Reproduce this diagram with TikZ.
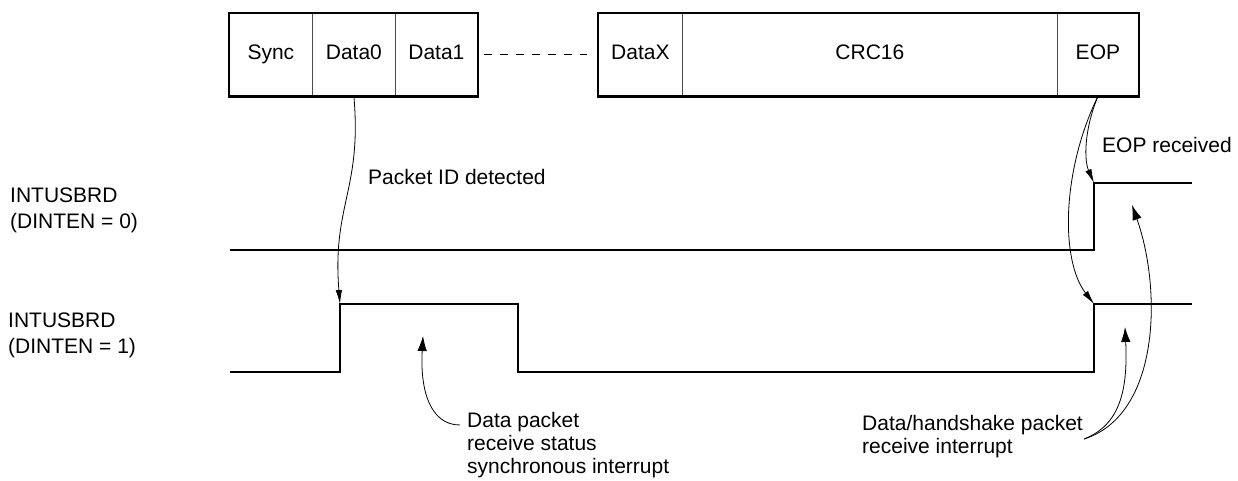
\documentclass[tikz,border=0pt]{standalone}
\usepackage{fontspec}
\setmainfont{Liberation Sans}
\usetikzlibrary{arrows.meta}

\begin{document}
\begin{tikzpicture}[x=1pt, y=-1pt, font=\fontsize{21}{26}\selectfont,
    field/.style={draw=black!70, line width=0.8pt, inner sep=0pt, minimum height=83pt,
      text height=15pt, text depth=4.5pt, anchor=west},
    frame/.style={line width=2.2pt},
    signal/.style={line width=2pt},
    lbl/.style={inner sep=0pt, align=left, anchor=west},
    tight/.style={font=\fontsize{21}{23}\selectfont},
    pointer/.style={line width=0.8pt, -{Latex[length=14pt, width=6.5pt]}},
    pointerup/.style={line width=0.8pt, -{Latex[length=15pt, width=9.5pt]}}]
  \useasboundingbox (0,0) rectangle (1238,480);
  \foreach \x/\w/\lbl/\nm in {
      229/83/Sync/sync,
      312/83/Data0/dzero,
      395/82/Data1/done,
      598/84/DataX/dx,
      682/375/CRC16/crc,
      1057/81/EOP/eop}{
    \node[field, minimum width=\w*1pt] (\nm) at (\x,54.5) {\lbl};
  }
  \draw[frame] (sync.north west) rectangle (done.south east);
  \draw[frame] (dx.north west) rectangle (eop.south east);
  \draw[line width=0.8pt, dash pattern=on 8pt off 8pt] ([xshift=6pt]done.east) -- ([xshift=-11pt]dx.west);

  \coordinate (pidrise) at (340,304);
  \coordinate (eoprise0) at (1094,183);
  \coordinate (eoprise1) at (1094,304);
  \draw[signal] (230,250) -| (eoprise0) -- ++(98,0);
  \draw[signal] (230,372) -| (pidrise) -- (518,304) -- (518,372) -| (eoprise1) -- ++(98,0);

  \node[lbl] (sig0) at (10,210) {INTUSBRD\\(DINTEN = 0)};
  \node[lbl] (sig1) at (8,335) {INTUSBRD\\(DINTEN = 1)};
  \node[lbl] (pidtxt) at (368,177) {Packet ID detected};
  \node[lbl] (eoptxt) at (1102,145) {EOP received};
  \node[lbl, tight] (dptxt) at (467,445) {Data packet\\receive status\\synchronous interrupt};
  \node[lbl, tight] (hstxt) at (862,436.5) {Data/handshake packet\\receive interrupt};

  \draw[pointer] (dzero.south) .. controls (362,190) and (332,205) .. (pidrise);
  \draw[pointer] (eop.south) .. controls (1084,130) and (1084,160) .. (eoprise0);
  \draw[pointer] (eop.south) .. controls (1062,170) and (1060,260) .. (eoprise1);

  \coordinate (dptail) at (460,425);
  \coordinate (dphead) at (423,336);
  \coordinate (hstail) at (1084,439);
  \coordinate (hshead0) at (1125,327);
  \coordinate (hshead1) at (1132,205);
  \draw[pointerup] (dptail) .. controls (430,425) and (420,390) .. (dphead);
  \draw[pointerup] (hstail) .. controls (1120,425) and (1128,390) .. (hshead0);
  \draw[pointerup] (hstail) .. controls (1160,415) and (1162,290) .. (hshead1);
\end{tikzpicture}
\end{document}
